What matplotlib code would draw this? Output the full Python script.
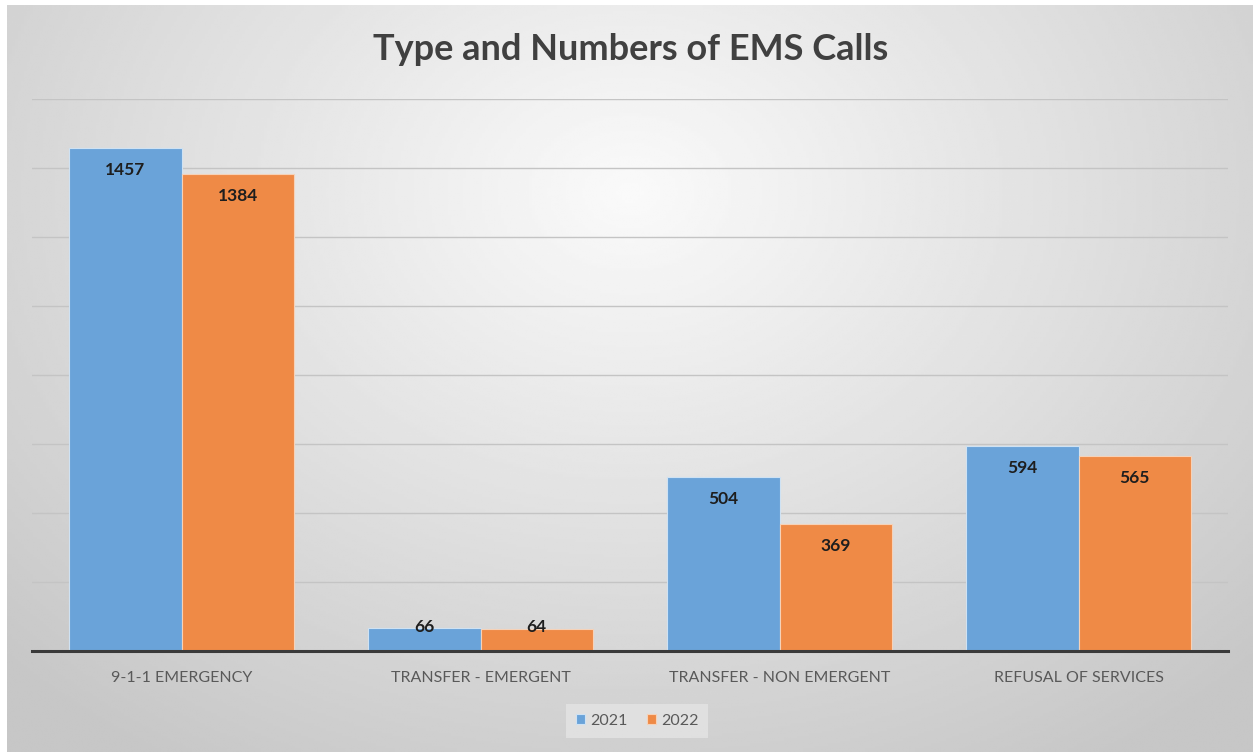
import numpy as np
import matplotlib.pyplot as plt

categories = ['9-1-1 EMERGENCY', 'TRANSFER - EMERGENT', 'TRANSFER - NON EMERGENT', 'REFUSAL OF SERVICES']
years = ['2021', '2022']
calls_2021 = [1457, 66, 504, 594]
calls_2022 = [1384, 64, 369, 565]
y_ticks = [0, 200, 400, 600, 800, 1000, 1200, 1400, 1600]

blue = '#6aa3d9'
orange = '#ef8a46'
font = 'Lato'

W, H = 1253, 752
fig = plt.figure(figsize=(W / 100, H / 100), dpi=100)
fig.patch.set_facecolor('white')

# radial grey background like the excel chart area
bg = fig.add_axes([7 / W, 0, 1 - 7 / W, 1 - 5 / H])
gx, gy = np.meshgrid(np.linspace(0, 1, 400), np.linspace(0, 1, 300))
d = np.sqrt(((gx - 0.5) / 0.7) ** 2 + ((gy - 0.25) / 0.9) ** 2)
shade = np.clip(0.98 - 0.2 * d, 0.78, 1.0)
bg.imshow(shade, cmap='gray', vmin=0, vmax=1, aspect='auto', extent=[0, 1, 1, 0])
bg.axis('off')

ax = fig.add_axes([32 / W, 101 / H, (1228 - 32) / W, (651 - 99) / H])
ax.patch.set_alpha(0)

x = np.arange(len(categories))
w = 0.375
b1 = ax.bar(x - w / 2, calls_2021, w, color=blue, edgecolor='#cfe2f3', linewidth=0.8, label=years[0], zorder=3)
b2 = ax.bar(x + w / 2, calls_2022, w, color=orange, edgecolor='#f6d2b8', linewidth=0.8, label=years[1], zorder=3)

for bars in (b1, b2):
    for r in bars:
        v = r.get_height()
        yy = v - 64 if v > 200 else v + 5
        ax.text(r.get_x() + r.get_width() / 2, yy, str(int(v)), ha='center', va='center',
                fontsize=12.5, fontweight='bold', color='#1e1e1e', family=font, zorder=4)

ax.set_xlim(-0.5, len(categories) - 0.5)
ax.set_ylim(0, 1600)
ax.set_yticks(y_ticks)
ax.yaxis.grid(True, color='#c4c4c4', linewidth=1)
ax.set_axisbelow(True)
ax.tick_params(axis='y', left=False, labelleft=False)
ax.tick_params(axis='x', bottom=False, pad=11)
ax.set_xticks(x)
ax.set_xticklabels(categories, fontsize=11.5, color='#595959', family=font)
for s in ['top', 'right', 'left']:
    ax.spines[s].set_visible(False)
ax.spines['bottom'].set_color('#3a3a3a')
ax.spines['bottom'].set_linewidth(2.2)
ax.spines['bottom'].set_zorder(5)

fig.text(631 / W, 1 - 49 / H, 'Type and Numbers of EMS Calls', ha='center', va='center',
         fontsize=26, fontweight='bold', color='#404040', family=font)

leg = fig.legend(loc='center', bbox_to_anchor=(637 / W, 1 - 721 / H), ncol=2, frameon=True,
                 handlelength=0.6, handleheight=0.6, handletextpad=0.3,
                 columnspacing=1.2, prop={'family': font, 'size': 11.5})
leg.get_frame().set_facecolor('#e4e4e4')
leg.get_frame().set_edgecolor('none')
leg.get_frame().set_boxstyle('square', pad=0.2)
for t in leg.get_texts():
    t.set_color('#595959')

fig.savefig('out.png', dpi=100)
